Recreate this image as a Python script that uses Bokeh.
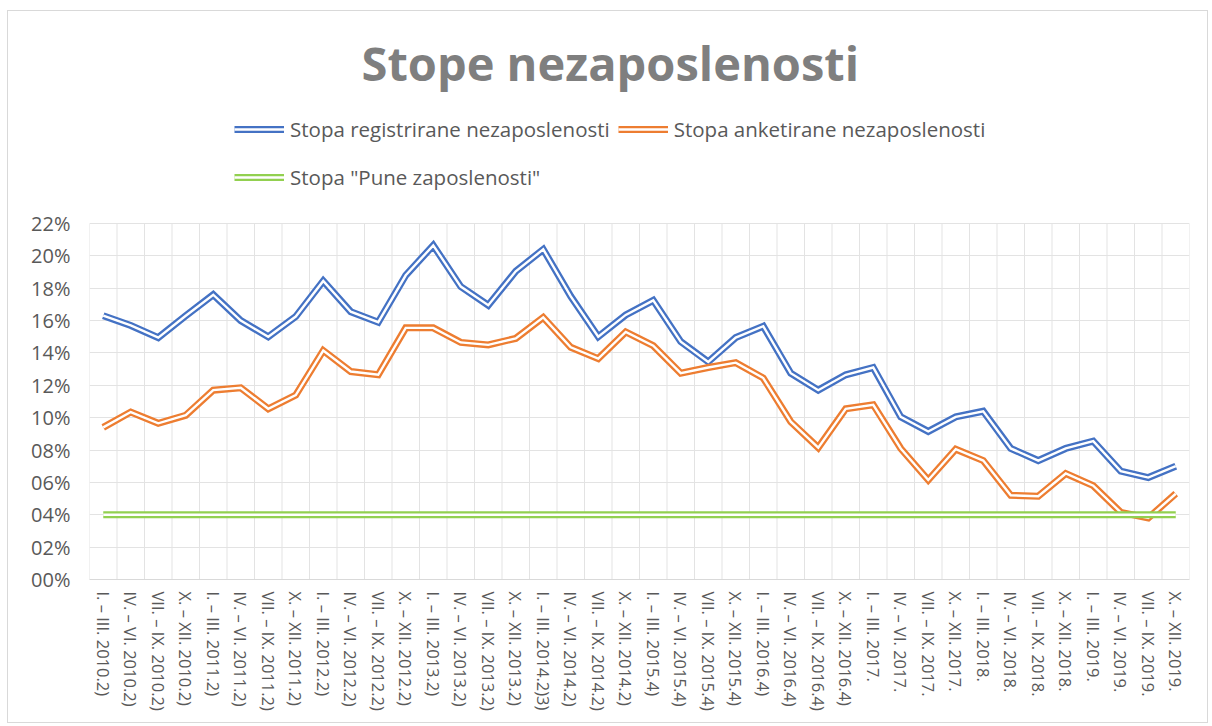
from bokeh.plotting import figure
from bokeh.models import Range1d, FixedTicker, Legend, LegendItem
from bokeh.embed import file_html
from bokeh.resources import INLINE

categories = [
    "I. – III. 2010.2)", "IV. – VI. 2010.2)", "VII. – IX. 2010.2)", "X. – XII. 2010.2)",
    "I. – III. 2011.2)", "IV. – VI. 2011.2)", "VII. – IX. 2011.2)", "X. – XII. 2011.2)",
    "I. – III. 2012.2)", "IV. – VI. 2012.2)", "VII. – IX. 2012.2)", "X. – XII. 2012.2)",
    "I. – III. 2013.2)", "IV. – VI. 2013.2)", "VII. – IX. 2013.2)", "X. – XII. 2013.2)",
    "I. – III. 2014.2)3)", "IV. – VI. 2014.2)", "VII. – IX. 2014.2)", "X. – XII. 2014.2)",
    "I. – III. 2015.4)", "IV. – VI. 2015.4)", "VII. – IX. 2015.4)", "X. – XII. 2015.4)",
    "I. – III. 2016.4)", "IV. – VI. 2016.4)", "VII. – IX. 2016.4)", "X. – XII. 2016.4)",
    "I. – III. 2017.", "IV. – VI. 2017.", "VII. – IX. 2017.", "X. – XII. 2017.",
    "I. – III. 2018.", "IV. – VI. 2018.", "VII. – IX. 2018.", "X. – XII. 2018.",
    "I. – III. 2019.", "IV. – VI. 2019.", "VII. – IX. 2019.", "X. – XII. 2019.",
]

registered = [16.3, 15.7, 14.95, 16.3, 17.6, 16.0, 15.0, 16.25, 18.45, 16.55,
              15.9, 18.8, 20.65, 18.1, 16.95, 19.05, 20.4, 17.5, 15.0, 16.35,
              17.25, 14.7, 13.45, 14.95, 15.65, 12.75, 11.7, 12.65, 13.1, 10.05,
              9.15, 10.05, 10.4, 8.1, 7.35, 8.1, 8.55, 6.7, 6.3, 7.0]

survey = [9.4, 10.35, 9.65, 10.15, 11.7, 11.85, 10.55, 11.4, 14.15, 12.85,
          12.65, 15.55, 15.55, 14.65, 14.5, 14.9, 16.2, 14.35, 13.65, 15.3,
          14.45, 12.75, 13.1, 13.4, 12.45, 9.75, 8.15, 10.55, 10.8, 8.1,
          6.15, 8.05, 7.35, 5.2, 5.15, 6.55, 5.8, 4.15, 3.8, 5.3]

full_employment = [4.0, 4.0, 4.0, 4.0, 4.0, 4.0, 4.0, 4.0, 4.0, 4.0,
                   4.0, 4.0, 4.0, 4.0, 4.0, 4.0, 4.0, 4.0, 4.0, 4.0,
                   4.0, 4.0, 4.0, 4.0, 4.0, 4.0, 4.0, 4.0, 4.0, 4.0,
                   4.0, 4.0, 4.0, 4.0, 4.0, 4.0, 4.0, 4.0, 4.0, 4.0]

y_ticks = [0, 2, 4, 6, 8, 10, 12, 14, 16, 18, 20, 22]
y_tick_labels = ["00%", "02%", "04%", "06%", "08%", "10%", "12%", "14%", "16%", "18%", "20%", "22%"]

series_names = ["Stopa registrirane nezaposlenosti", "Stopa anketirane nezaposlenosti",
                'Stopa "Pune zaposlenosti"']
series_colors = ["#4472C4", "#ED7D31", "#92D050"]

FONT = "Open Sans"
TXT = "#595959"
GRID = "#e3e3e3"

n = len(categories)
x = [i + 0.5 for i in range(n)]
y_max = y_ticks[-1]
# frame extends above the value axis to hold the legend (legend lives in the frame)
y_top = y_max * 468 / 356

p = figure(width=1201, height=713, output_backend="svg", toolbar_location=None,
           x_range=Range1d(0, n), y_range=Range1d(0, y_top),
           min_border_left=81, min_border_right=20, min_border_top=100, min_border_bottom=145)
p.styles = {"border": "1.5px solid #d9d9d9", "margin-left": "7px", "margin-top": "10px"}
p.outline_line_color = None

p.title.text = "Stope nezaposlenosti"
p.title.text_font = FONT
p.title.text_font_size = "47px"
p.title.text_font_style = "bold"
p.title.text_color = "#7f7f7f"
p.title.align = "left"
p.title.offset = 272
p.title.standoff = 34

# axes
p.xaxis.ticker = FixedTicker(ticks=x)
p.xaxis.major_label_overrides = {xx: c for xx, c in zip(x, categories)}
p.xaxis.major_label_orientation = "vertical"
p.xaxis.major_label_text_font = FONT
p.xaxis.major_label_text_font_size = "16.5px"
p.xaxis.major_label_text_color = TXT
p.xaxis.major_tick_line_color = None
p.xaxis.minor_tick_line_color = None
p.xaxis.major_tick_out = 0
p.xaxis.major_label_standoff = 12
p.xaxis.axis_line_color = "#d9d9d9"

p.yaxis.ticker = FixedTicker(ticks=y_ticks)
p.yaxis.major_label_overrides = {t: l for t, l in zip(y_ticks, y_tick_labels)}
p.yaxis.major_label_text_font = FONT
p.yaxis.major_label_text_font_size = "20px"
p.yaxis.major_label_text_color = TXT
p.yaxis.major_tick_line_color = None
p.yaxis.minor_tick_line_color = None
p.yaxis.major_tick_out = 0
p.yaxis.major_label_standoff = 19
p.yaxis.axis_line_color = None

# horizontal grid at value ticks; vertical grid at category boundaries, limited to the value area
p.ygrid.ticker = FixedTicker(ticks=y_ticks)
p.ygrid.grid_line_color = GRID
p.xgrid.visible = False
bounds = list(range(n + 1))
p.segment(x0=bounds, y0=[0] * len(bounds), x1=bounds, y1=[y_max] * len(bounds),
          line_color=GRID, line_width=1)

items = []
for vals, name, col in zip([registered, survey, full_employment], series_names, series_colors):
    r1 = p.line(x, vals, line_color=col, line_width=7, line_join="miter")
    r2 = p.line(x, vals, line_color="white", line_width=2.4, line_join="miter")
    items.append(LegendItem(label=name, renderers=[r1, r2]))

def make_legend(its, loc):
    lg = Legend(items=its, location=loc, orientation="horizontal")
    lg.label_text_font = FONT
    lg.label_text_font_size = "20.5px"
    lg.label_text_color = TXT
    lg.glyph_width = 50
    lg.glyph_height = 20
    lg.label_height = 20
    lg.label_standoff = 6
    lg.spacing = 8
    lg.padding = 0
    lg.margin = 0
    lg.border_line_color = None
    lg.background_fill_alpha = 0
    return lg

p.add_layout(make_legend(items[:2], (145, 436)), "center")
p.add_layout(make_legend(items[2:], (145, 388)), "center")

open("out.html", "w").write(file_html(p, INLINE))
